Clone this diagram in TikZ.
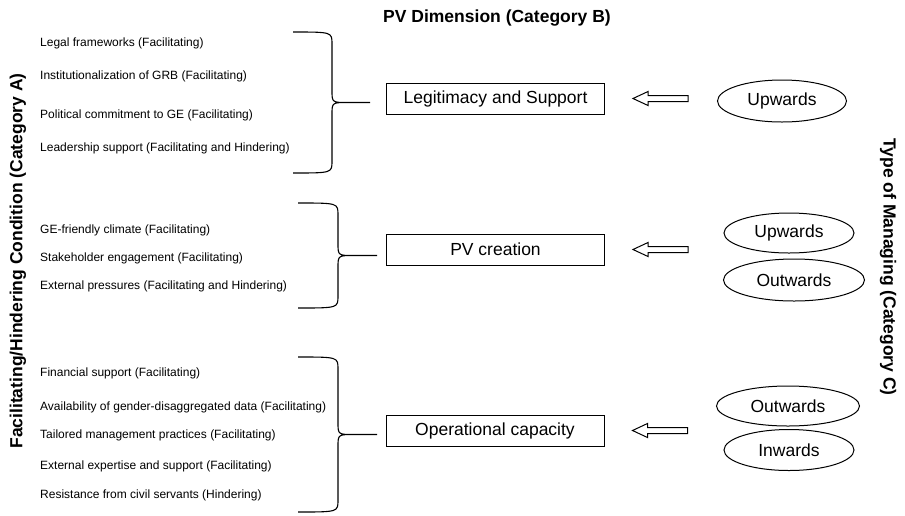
\documentclass[tikz,border=0pt]{standalone}
\usepackage{fontspec}
\setmainfont{Liberation Sans}
\usetikzlibrary{shapes.geometric}

\begin{document}
\begin{tikzpicture}[x=1pt, y=-1pt,
  dimbox/.style={draw, line width=1pt, minimum width=218pt, minimum height=31pt, inner sep=0pt, font=\fontsize{17.5}{20}\selectfont},
  mgoval/.style={ellipse, draw, line width=1pt, inner sep=0pt, font=\fontsize{17.5}{20}\selectfont},
  cond/.style={anchor=west, inner sep=0pt, font=\fontsize{12}{14}\selectfont},
  cattitle/.style={font=\fontsize{17.5}{20}\selectfont\bfseries},
  hollow/.style={line width=1pt, line join=miter},
  bracestyle/.style={line width=1.1pt}]

  \useasboundingbox (0,0) rectangle (905,515);

  % category titles
  \node[cattitle] (catB) at (497,18) {PV Dimension (Category B)};
  \node[cattitle, rotate=90] (catA) at (18,261) {Facilitating/Hindering Condition (Category A)};
  \node[cattitle, rotate=-90] (catC) at (888,267) {Type of Managing (Category C)};

  % conditions
  \foreach \y/\txt [count=\i] in {43/Legal frameworks (Facilitating),
      76/Institutionalization of GRB (Facilitating),
      115/Political commitment to GE (Facilitating),
      148/Leadership support (Facilitating and Hindering),
      230/GE-friendly climate (Facilitating),
      258/Stakeholder engagement (Facilitating),
      286/External pressures (Facilitating and Hindering),
      373/Financial support (Facilitating),
      407/Availability of gender-disaggregated data (Facilitating),
      435/Tailored management practices (Facilitating),
      466/External expertise and support (Facilitating),
      495/Resistance from civil servants (Hindering)}
    \node[cond] (c\i) at (40,\y) {\txt};

  % braces
  \foreach \ya/\yb/\xl/\xv/\xt [count=\i] in {32/173/293/332/370, 203/308/298/338/377, 357/512/298/338/377}
    {\pgfmathsetmacro{\ym}{(\ya+\yb)/2}
     \draw[bracestyle] (\xl,\ya) .. controls (\xv,\ya) .. (\xv,\ya+12) -- (\xv,\ym-12)
       .. controls (\xv,\ym) .. (\xv+16,\ym) -- (\xt,\ym) coordinate (tip\i) -- (\xv+16,\ym)
       .. controls (\xv,\ym) .. (\xv,\ym+12) -- (\xv,\yb-12) .. controls (\xv,\yb) .. (\xl,\yb);}

  % PV dimensions
  \node[dimbox] (legit) at (495.5,98.5) {Legitimacy and Support};
  \node[dimbox] (pvcreate) at (495.5,249.5) {PV creation};
  \node[dimbox] (opcap) at (495,430.5) {Operational capacity};

  % types of managing
  \node[mgoval, minimum width=129pt, minimum height=42pt] (up1) at (782,101) {Upwards};
  \node[mgoval, minimum width=130pt, minimum height=40pt] (up2) at (789,233) {Upwards};
  \node[mgoval, minimum width=141pt, minimum height=42pt] (out2) at (794,280) {Outwards};
  \node[mgoval, minimum width=143pt, minimum height=40pt] (out3) at (788,406) {Outwards};
  \node[mgoval, minimum width=130pt, minimum height=41pt] (in3) at (789,450) {Inwards};

  % block arrows
  \foreach \b [count=\i] in {legit,pvcreate,opcap}
    {\coordinate (ar\i) at ([xshift=83pt]\b.east);
     \draw[hollow] (ar\i) ++(0,-3) -- ++(-40,0) -- ++(0,-4) -- ++(-15,7) -- ++(15,7)
       -- ++(0,-4) -- ++(40,0) -- cycle;}
\end{tikzpicture}
\end{document}
